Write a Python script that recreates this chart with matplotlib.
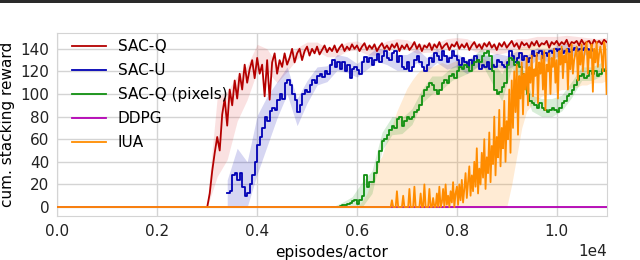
import numpy as np
import matplotlib
matplotlib.use("Agg")
import matplotlib.pyplot as plt
from matplotlib.patches import Rectangle

# ---------------- data ----------------
step = 50
sacq_start = 3000
sacq = [0, 12, 32, 48, 62, 50, 82, 96, 72, 104,
        90, 112, 96, 118, 104, 126, 110, 122, 130, 114,
        132, 118, 126, 98, 130, 95, 128, 136, 118, 130,
        124, 136, 126, 132, 140, 128, 136, 140, 130, 138,
        142, 134, 140, 136, 142, 135, 139, 143, 137, 141,
        138, 143, 137, 141, 144, 138, 142, 139, 144, 140,
        143, 138, 142, 145, 139, 143, 140, 144, 138, 142,
        145, 140, 143, 139, 144, 141, 145, 138, 143, 140,
        144, 139, 142, 146, 140, 144, 138, 143, 141, 145,
        139, 144, 141, 146, 140, 143, 145, 139, 144, 142,
        146, 140, 144, 141, 145, 139, 143, 146, 141, 144,
        140, 145, 142, 146, 141, 144, 139, 145, 142, 146,
        141, 144, 147, 142, 145, 140, 146, 143, 145, 141,
        146, 143, 147, 142, 145, 144, 147, 141, 146, 144,
        147, 143, 146, 144, 148, 142, 146, 145, 147, 143,
        148, 144, 146, 147, 143, 148, 145, 147, 144, 148,
        146]
sacq_spread = [4, 35, 30, 20, 15, 12, 10, 8, 6, 5,
               4, 4, 4, 4, 4, 4, 4, 4, 4, 4,
               4, 4, 4, 4, 4, 4, 4, 4, 4, 4,
               4, 4, 4, 4, 4, 4, 4, 4, 4, 4, 4]

sacu_start = 3400
sacu = [12, 14, 28, 30, 24, 30, 18, 10, 12, 20,
        28, 40, 55, 62, 70, 80, 76, 85, 88, 86,
        95, 100, 96, 110, 112, 108, 100, 95, 84, 90,
        100, 104, 102, 108, 112, 110, 116, 118, 115, 120,
        118, 126, 130, 124, 128, 122, 128, 120, 126, 114,
        122, 124, 121, 118, 128, 133, 128, 132, 126, 130,
        135, 128, 134, 138, 132, 130, 136, 138, 128, 134,
        124, 122, 128, 120, 124, 130, 134, 128, 124, 120,
        126, 132, 128, 136, 134, 130, 138, 134, 128, 132,
        138, 134, 130, 126, 132, 128, 124, 130, 126, 134,
        130, 122, 126, 124, 128, 122, 126, 124, 130, 128,
        126, 124, 128, 138, 134, 128, 132, 136, 130, 134,
        128, 132, 138, 134, 136, 138, 132, 136, 134, 138,
        136, 140, 138, 140, 136, 138, 140, 137, 139, 141,
        138, 140, 139, 141, 140, 138, 140]
sacu_spread = [12, 28, 28, 26, 22, 16, 12, 12, 10, 8,
               7, 7, 7, 6, 6, 6, 6, 7, 7, 6,
               6, 6, 6, 6, 6, 6, 6, 6, 6, 6,
               6, 5, 5, 5, 5, 5, 5]

pix_start = 5500
pix = [0, 0, 0, 1, 2, 2, 3, 4, 5, 6,
       3, 6, 10, 28, 18, 22, 22, 30, 40, 50,
       58, 60, 64, 68, 72, 70, 78, 80, 72, 76,
       80, 78, 80, 84, 86, 90, 98, 104, 106, 110,
       108, 104, 100, 104, 110, 112, 110, 116, 118, 114,
       120, 124, 122, 126, 124, 120, 126, 128, 130, 128,
       134, 136, 138, 134, 120, 104, 100, 102, 106, 110,
       126, 132, 130, 126, 128, 124, 118, 110, 100, 94,
       92, 90, 88, 92, 88, 86, 84, 86, 88, 86,
       84, 88, 92, 94, 98, 100, 104, 108, 112, 116,
       118, 114, 116, 120, 118, 120, 116, 118, 122, 120,
       118]
pix_spread = [0, 2, 4, 12, 10, 8, 8, 7, 7, 6,
              8, 6, 6, 6, 6, 7, 10, 12, 7, 7,
              7, 8, 8, 7, 7, 6, 6, 6]

ddpg_episodes = [0, 11000]
ddpg = [0, 0]

iua_step = 25
iua_start = 6600
iua = [0, 0, 0, 0, 6, 0, 0, 0, 14, 0, 0, 0, 0, 10, 0, 0, 0, 0, 16, 0,
       0, 0, 18, 0, 0, 0, 0, 12, 0, 0, 20, 0, 0, 0, 16, 0, 0, 8, 0, 0,
       12, 0, 18, 0, 4, 16, 0, 20, 2, 10, 0, 14, 4, 22, 0, 12, 18, 2, 20, 6,
       24, 4, 16, 30, 8, 22, 36, 10, 28, 14, 40, 18, 52, 12, 34, 20, 48, 26, 60, 16,
       44, 30, 66, 22, 54, 38, 80, 28, 62, 44, 86, 36, 70, 52, 94, 40, 76, 60, 104, 48,
       112, 70, 120, 84, 126, 64, 116, 96, 128, 82, 118, 104, 132, 90, 124, 110, 134, 98, 122, 116,
       136, 92, 128, 118, 134, 104, 138, 86, 126, 120, 136, 100, 132, 124, 140, 110, 130, 96, 138, 126,
       142, 114, 134, 128, 140, 104, 136, 122, 144, 118, 130, 136, 142, 112, 138, 126, 144, 120, 134, 140,
       146, 118, 138, 132, 144, 102, 140, 128, 146, 124, 136, 142, 134, 120, 146, 140, 100]
iua_band_start = 6000
iua_band_step = 100
iua_hi = [0, 5, 12, 25, 38, 45, 60, 72, 85, 95,
          105, 112, 118, 122, 125, 124, 126, 128, 126, 128,
          130, 128, 130, 128, 130, 132, 130, 128, 126, 128,
          132, 138, 140, 142, 142, 144, 144, 145, 145, 146,
          146, 146, 147, 147, 147, 148, 148, 148, 148, 148, 148]
iua_lo = [0] * 31 + [20, 45, 70, 85, 90, 95, 98, 100, 100, 102,
                     104, 104, 106, 106, 108, 108, 110, 110, 110, 112]

labels = ["SAC-Q", "SAC-U", "SAC-Q (pixels)", "DDPG", "IUA"]
colors = ["#b40000", "#0000b4", "#109010", "#b400b4", "#ff8c00"]

# ---------------- plot ----------------
plt.rcParams['font.family'] = ['DejaVu Sans']
fig = plt.figure(figsize=(6.4, 2.6), dpi=100)
ax = fig.add_axes([0.0898, 0.169, 0.858, 0.704])

def xs(start, n, st):
    return start + st * np.arange(n)

x_q = xs(sacq_start, len(sacq), step)
x_u = xs(sacu_start, len(sacu), step)
x_p = xs(pix_start, len(pix), step)
x_i = np.concatenate([[0], xs(iua_start, len(iua), iua_step)])
y_i = np.concatenate([[0], iua])
x_ib = xs(iua_band_start, len(iua_hi), iua_band_step)

def band(x, y, spread, color, alpha):
    xb = np.asarray(x)[::4]
    yb = np.asarray(y, float)[::4]
    sp = np.asarray(spread, float)
    ax.fill_between(xb, np.maximum(yb - sp, 0), yb + sp, color=color,
                    alpha=alpha, lw=0, zorder=1)

ax.fill_between(x_ib, iua_lo, iua_hi, color=colors[4], alpha=0.17, lw=0, zorder=1)
band(x_q, sacq, sacq_spread, "#e03030", 0.14)
band(x_u, sacu, sacu_spread, colors[1], 0.16)
band(x_p, pix, pix_spread, colors[2], 0.16)

lw = 1.3
ax.plot(x_q, sacq, color=colors[0], lw=lw, label=labels[0], zorder=3)
ax.plot(x_u, sacu, color=colors[1], lw=lw, label=labels[1], zorder=3,
        drawstyle="steps-post")
ax.plot(x_p, pix, color=colors[2], lw=lw, label=labels[2], zorder=3,
        drawstyle="steps-post")
ax.plot(ddpg_episodes, ddpg, color=colors[3], lw=lw, label=labels[3], zorder=3)
ax.plot(x_i, y_i, color=colors[4], lw=lw, label=labels[4], zorder=4)

ax.set_xlim(0, 11000)
ax.set_ylim(-8, 154)
ax.set_xticks([0, 2000, 4000, 6000, 8000, 10000])
ax.set_yticks(range(0, 141, 20))
ax.ticklabel_format(style='sci', axis='x', scilimits=(0, 0))
ax.grid(True, color="#d4d4d4", lw=1.0)
ax.set_axisbelow(True)
for s in ax.spines.values():
    s.set_color("#d4d4d4")
ax.tick_params(length=0, labelsize=11, colors="#222222", pad=6)
ax.xaxis.get_offset_text().set_fontsize(11)
ax.set_xlabel("episodes/actor", fontsize=11)
ax.set_ylabel("cum. stacking reward", fontsize=11)

ax.legend(loc="upper left", frameon=False, fontsize=11, labelspacing=0.58,
          handlelength=2.2, borderaxespad=0.2, bbox_to_anchor=(0.01, 1.015))

fig.add_artist(Rectangle((0, 1 - 3 / 260), 1, 3 / 260, transform=fig.transFigure,
                         color="#2a2a2a", lw=0))

fig.savefig("out.png", dpi=100)
